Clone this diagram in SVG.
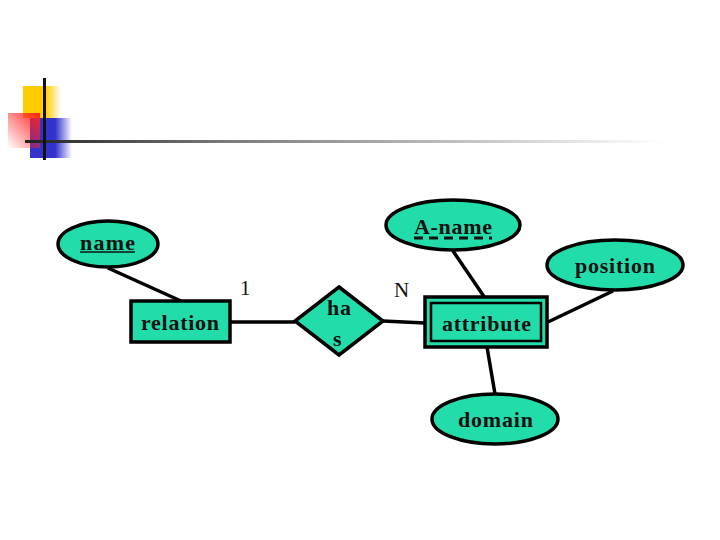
<svg xmlns="http://www.w3.org/2000/svg" width="720" height="540" viewBox="0 0 720 540">
<defs>
<linearGradient id="hl" x1="0" x2="1" y1="0" y2="0">
<stop offset="0" stop-color="#222"/><stop offset="0.3" stop-color="#777"/><stop offset="1" stop-color="#fff"/>
</linearGradient>
<linearGradient id="yel" x1="0" x2="1"><stop offset="0.6" stop-color="#FFCC00"/><stop offset="1" stop-color="#FFCC00" stop-opacity="0"/></linearGradient>
<linearGradient id="blu" x1="0" x2="1"><stop offset="0.6" stop-color="#3333CC"/><stop offset="1" stop-color="#3333CC" stop-opacity="0"/></linearGradient>
<linearGradient id="red" x1="1" x2="0" y1="0" y2="1"><stop offset="0" stop-color="#FF2222"/><stop offset="1" stop-color="#FF2222" stop-opacity="0"/></linearGradient>
</defs>
<style>
.sh{fill:#22DDAA;stroke:#000;stroke-width:3.5}
.ln{stroke:#000;stroke-width:3.5;fill:none}
text{font-family:"Liberation Serif","Times New Roman",serif;font-weight:bold;font-size:22px;fill:#111}
.lb{font-weight:normal;font-size:21px}
</style>
<g id="logo">
<rect x="23" y="86" width="38" height="32" fill="url(#yel)"/>
<rect x="30" y="118" width="42" height="40" fill="url(#blu)"/>
<rect x="8" y="113" width="32" height="35" fill="url(#red)"/>
<rect x="25" y="140" width="640" height="3" fill="url(#hl)"/>
<rect x="43" y="78" width="3" height="82" fill="#111"/>
</g>
<g id="connectors">
<line class="ln" x1="108" y1="268" x2="181" y2="301"/>
<line class="ln" x1="230" y1="322" x2="295" y2="322"/>
<line class="ln" x1="383" y1="321" x2="425" y2="323"/>
<line class="ln" x1="453" y1="251" x2="485" y2="298"/>
<line class="ln" x1="613" y1="291" x2="548" y2="322"/>
<line class="ln" x1="487" y1="347" x2="495" y2="394"/>
</g>
<g id="name">
<ellipse class="sh" cx="108" cy="244" rx="50" ry="23"/>
<text x="80" y="250" textLength="55" lengthAdjust="spacing">name</text>
<line x1="80" y1="252" x2="135" y2="252" stroke="#111" stroke-width="1.5"/>
</g>
<g id="relation">
<rect class="sh" x="131" y="301" width="99" height="41"/>
<text x="141" y="330" textLength="78" lengthAdjust="spacing">relation</text>
</g>
<g id="has">
<polygon class="sh" points="339,287 383,321 339,355 295,321"/>
<text x="327" y="315" textLength="24" lengthAdjust="spacing">ha</text>
<text x="333" y="346">s</text>
</g>
<g id="attribute">
<rect class="sh" x="425" y="297" width="122" height="50"/>
<rect x="431" y="303" width="110" height="38" fill="none" stroke="#000" stroke-width="2.5"/>
<text x="442" y="331" textLength="89" lengthAdjust="spacing">attribute</text>
</g>
<g id="a-name">
<ellipse class="sh" cx="453" cy="225" rx="67" ry="25"/>
<text x="414" y="234" textLength="78" lengthAdjust="spacing">A-name</text>
<line x1="414" y1="238" x2="492" y2="238" stroke="#111" stroke-width="3" stroke-dasharray="9,6"/>
</g>
<g id="position">
<ellipse class="sh" cx="615" cy="265" rx="68" ry="25"/>
<text x="575" y="273" textLength="80" lengthAdjust="spacing">position</text>
</g>
<g id="domain">
<ellipse class="sh" cx="495" cy="419" rx="63" ry="25"/>
<text x="458" y="427" textLength="75" lengthAdjust="spacing">domain</text>
</g>
<g id="labels">
<text class="lb" x="240" y="295">1</text>
<text class="lb" x="394" y="297">N</text>
</g>
</svg>
